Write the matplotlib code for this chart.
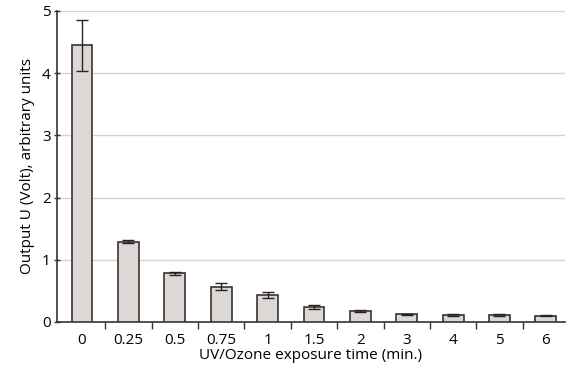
import matplotlib
matplotlib.use("Agg")
import matplotlib.pyplot as plt
import numpy as np

categories = ["0", "0.25", "0.5", "0.75", "1", "1.5", "2", "3", "4", "5", "6"]
values = [4.45, 1.29, 0.78, 0.57, 0.43, 0.24, 0.18, 0.12, 0.11, 0.11, 0.10]
errors = [0.41, 0.02, 0.03, 0.05, 0.05, 0.03, 0.02, 0.01, 0.01, 0.01, 0.01]

plt.rcParams['font.family'] = ['Open Sans', 'DejaVu Sans']

fig = plt.figure(figsize=(5.7, 3.77), dpi=100)
ax = fig.add_axes([0.1, 0.146, 0.891, 0.825])

x = np.arange(len(categories))
ax.bar(x, values, width=0.45, color="#dcd8d5", edgecolor="#3a3232", linewidth=1.2, zorder=3,
       yerr=errors, error_kw=dict(ecolor="#2a2222", elinewidth=1.0, capsize=4, capthick=1.0, zorder=4))

ax.set_ylim(0, 5)
ax.set_xlim(-0.54, 10.41)
ax.set_yticks([0, 1, 2, 3, 4, 5])
ax.yaxis.grid(True, color="#d8d2ce", linewidth=1.0, zorder=0)
ax.set_axisbelow(True)

ax.set_xticks(x)
ax.set_xticklabels(categories)
ax.set_xticks(np.arange(len(categories) - 1) + 0.5, minor=True)
ax.tick_params(axis='x', which='major', length=0, labelsize=11, pad=8)
ax.tick_params(axis='x', which='minor', length=5, width=1, color="#3a3232", direction='out')
ax.tick_params(axis='y', which='major', length=5, width=1, color="#3a3232", direction='inout', labelsize=11, pad=2)

for s in ["top", "right"]:
    ax.spines[s].set_visible(False)
for s in ["left", "bottom"]:
    ax.spines[s].set_color("#3a3232")
    ax.spines[s].set_linewidth(1.2)

ax.set_xlabel("UV/Ozone exposure time (min.)", fontsize=11, labelpad=0)
ax.set_ylabel("Output U (Volt), arbitrary units", fontsize=11, labelpad=5)

fig.savefig("out.png", dpi=100)
